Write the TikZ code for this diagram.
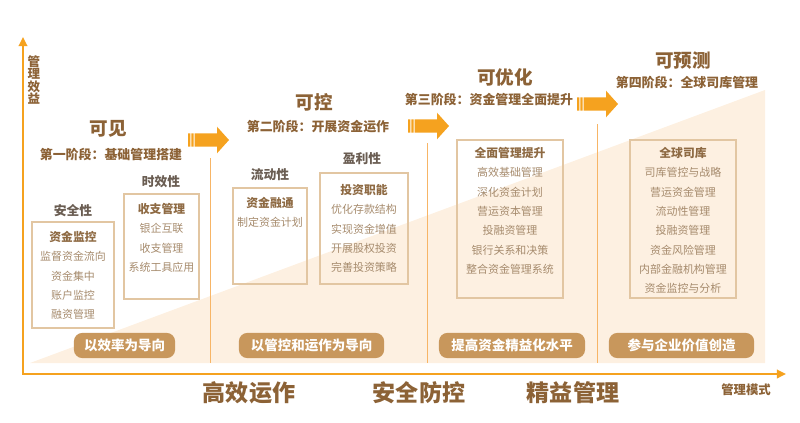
\documentclass[tikz,border=0pt]{standalone}
\usepackage{fontspec}
\setmainfont{Noto Sans CJK SC}
\usetikzlibrary{arrows.meta}
\definecolor{axisorange}{HTML}{F5A21F}
\definecolor{lineorange}{HTML}{F7B566}
\definecolor{peach}{HTML}{FDF0E1}
\definecolor{titlebrown}{HTML}{8C6236}
\definecolor{aspectgray}{HTML}{6A5D52}
\definecolor{panelline}{HTML}{E2C6A2}
\definecolor{headbrown}{HTML}{8E6A43}
\definecolor{itemgray}{HTML}{A68B6D}
\definecolor{pillbrown}{HTML}{C8975C}
\newcommand{\panelhead}[1]{{\fontsize{8.4}{13.73}\selectfont\bfseries\color{headbrown}#1}}
\begin{document}
\begin{tikzpicture}[x=0.025cm, y=-0.025cm,
    title/.style={inner sep=0, text=titlebrown, font=\fontsize{13.2}{15}\selectfont\bfseries},
    stage/.style={inner sep=0, text=titlebrown, font=\fontsize{9.2}{11}\selectfont\bfseries},
    aspect/.style={inner sep=0, text=aspectgray, font=\fontsize{9.1}{11}\selectfont\bfseries},
    items/.style={inner sep=0, anchor=north, align=center, text=itemgray, font=\fontsize{7.8}{13.73}\selectfont},
    panel/.style={draw=panelline, line width=0.8pt},
    pill/.style={fill=pillbrown, rounded corners=6pt, text=white, minimum height=0.63cm,
        inner sep=0, font=\fontsize{9.6}{11}\selectfont\bfseries},
    mode/.style={inner sep=0, text=titlebrown, font=\fontsize{16.4}{19}\selectfont\bfseries},
    divider/.style={draw=lineorange, line width=0.7pt},
    stagearrow/.style={fill=axisorange}]
    \useasboundingbox (0,0) rectangle (800,422);
    % background
    \fill [peach] (30,363) -- (765,90) -- (765,363) -- cycle;
    % axes
    \draw [{Triangle[length=6.5pt,width=6pt]}-{Triangle[length=6.5pt,width=6pt]}, axisorange, line width=2pt]
        (23,37) |- (786,374);
    \node [inner sep=0, align=center, text=titlebrown, font=\fontsize{8.9}{8.9}\selectfont\bfseries] (yname) at (34,80) {管\\理\\效\\益};
    \node [inner sep=0, text=titlebrown, font=\fontsize{8.8}{10}\selectfont\bfseries] (xname) at (746,390) {管理模式};
    % stage dividers
    \draw [divider] (210,158) -- (210,363);
    \draw [divider] (427,143) -- (427,363);
    \draw [divider] (597,124) -- (597,363);
    % stage arrows
    \fill [stagearrow, shift={(188,140)}] (0,-6.7) rectangle (2.3,6.7) (3.4,-6.7) rectangle (5.6,6.7)
        (6.7,-6.7) -- (29,-6.7) -- (29,-13.3) -- (41,0) -- (29,13.3) -- (29,6.7) -- (6.7,6.7) -- cycle;
    \fill [stagearrow, shift={(408,126)}] (0,-6.7) rectangle (2.3,6.7) (3.4,-6.7) rectangle (5.6,6.7)
        (6.7,-6.7) -- (29,-6.7) -- (29,-13.3) -- (41,0) -- (29,13.3) -- (29,6.7) -- (6.7,6.7) -- cycle;
    \fill [stagearrow, shift={(577,104)}] (0,-6.7) rectangle (2.3,6.7) (3.4,-6.7) rectangle (5.6,6.7)
        (6.7,-6.7) -- (29,-6.7) -- (29,-13.3) -- (41,0) -- (29,13.3) -- (29,6.7) -- (6.7,6.7) -- cycle;
    % stage titles
    \node [title] (visible) at (108,129) {可见};
    \node [stage] (stageone) at (111,155) {第一阶段：基础管理搭建};
    \node [title] (control) at (314,102) {可控};
    \node [stage] (stagetwo) at (318,127) {第二阶段：开展资金运作};
    \node [title] (optimize) at (505,77) {可优化};
    \node [stage] (stagethree) at (489,100) {第三阶段：资金管理全面提升};
    \node [title] (predict) at (683,61) {可预测};
    \node [stage] (stagefour) at (687,83) {第四阶段：全球司库管理};
    % stage 1
    \node [aspect] (safety) at (73,211) {安全性};
    \draw [panel] (32,222) rectangle (114,328);
    \node [items] (monitor) at (73,231) {\panelhead{资金监控}\\监督资金流向\\资金集中\\账户监控\\融资管理};
    \node [aspect] (timely) at (161,182) {时效性};
    \draw [panel] (124,194) rectangle (199,299);
    \node [items] (payments) at (161.5,203) {\panelhead{收支管理}\\银企互联\\收支管理\\系统工具应用};
    \node [pill, minimum width=2.53cm] (efficiency) at (124.5,345.5) {以效率为导向};
    % stage 2
    \node [aspect] (liquidity) at (270,175) {流动性};
    \draw [panel] (233,188) rectangle (307,284);
    \node [items] (financing) at (270,197) {\panelhead{资金融通}\\制定资金计划};
    \node [aspect] (profit) at (362,159) {盈利性};
    \draw [panel] (320,173) rectangle (408,284);
    \node [items] (invest) at (364,184) {\panelhead{投资职能}\\优化存款结构\\实现资金增值\\开展股权投资\\完善投资策略};
    \node [pill, minimum width=3.63cm] (govern) at (311.5,345.5) {以管控和运作为导向};
    % stage 3
    \draw [panel] (457,140) rectangle (563,298);
    \node [items] (overall) at (510,147) {\panelhead{全面管理提升}\\高效基础管理\\深化资金计划\\营运资本管理\\投融资管理\\银行关系和决策\\整合资金管理系统};
    \node [pill, minimum width=3.65cm] (lean) at (512,345.5) {提高资金精益化水平};
    % stage 4
    \draw [panel] (630,140) rectangle (736,298);
    \node [items] (treasury) at (683,147) {\panelhead{全球司库}\\司库管控与战略\\营运资金管理\\流动性管理\\投融资管理\\资金风险管理\\内部金融机构管理\\资金监控与分析};
    \node [pill, minimum width=3.63cm] (value) at (681.5,345.5) {参与企业价值创造};
    % management modes
    \node [mode] (efficient) at (249,393) {高效运作};
    \node [mode] (secure) at (419,393) {安全防控};
    \node [mode] (refined) at (573,393) {精益管理};
\end{tikzpicture}
\end{document}
